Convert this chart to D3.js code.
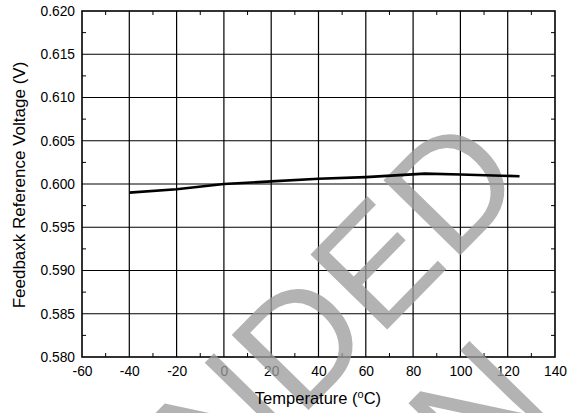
<!DOCTYPE html>
<html>
<head>
<meta charset="utf-8">
<script src="https://cdn.jsdelivr.net/npm/d3@7"></script>
<style>
  html, body { margin: 0; padding: 0; background: #fff; }
  svg { display: block; font-family: "Liberation Sans", Arial, sans-serif; }
</style>
</head>
<body>
<div id="chart"></div>
<script>
// Data
const temps = [-40, -20, 0, 20, 40, 60, 85, 100, 125];
const vref = [0.5990, 0.5994, 0.6000, 0.6003, 0.6006, 0.6008, 0.6012, 0.6011, 0.6009];
const xTicks = [-60, -40, -20, 0, 20, 40, 60, 80, 100, 120, 140];
const yTicks = [0.580, 0.585, 0.590, 0.595, 0.600, 0.605, 0.610, 0.615, 0.620];

const W = 575, H = 413;
const pLeft = 82, pRight = 555, pTop = 11, pBottom = 357;

const svg = d3.select('#chart').append('svg')
  .attr('width', W)
  .attr('height', H);

const x = d3.scaleLinear().domain([-60, 140]).range([pLeft, pRight]);
const y = d3.scaleLinear().domain([0.580, 0.620]).range([pBottom, pTop]);

// Grid
svg.append('g')
  .selectAll('line')
  .data(xTicks.slice(1, -1))
  .join('line')
  .attr('x1', d => x(d)).attr('x2', d => x(d))
  .attr('y1', pTop).attr('y2', pBottom)
  .attr('stroke', '#000').attr('stroke-width', 1.2);

svg.append('g')
  .selectAll('line')
  .data(yTicks.slice(1, -1))
  .join('line')
  .attr('x1', pLeft).attr('x2', pRight)
  .attr('y1', d => y(d)).attr('y2', d => y(d))
  .attr('stroke', '#000').attr('stroke-width', 1.2);

// Minor ticks (inside the frame)
const xMinor = d3.range(-50, 140, 20);
const yMinor = d3.range(0.5825, 0.62, 0.005);
[pBottom, pTop].forEach(yy => {
  svg.append('g').selectAll('line').data(xMinor).join('line')
    .attr('x1', d => x(d)).attr('x2', d => x(d))
    .attr('y1', yy).attr('y2', yy === pBottom ? yy - 4 : yy + 4)
    .attr('stroke', '#000');
});
[pLeft, pRight].forEach(xx => {
  svg.append('g').selectAll('line').data(yMinor).join('line')
    .attr('x1', xx).attr('x2', xx === pLeft ? xx + 4 : xx - 4)
    .attr('y1', d => y(d)).attr('y2', d => y(d))
    .attr('stroke', '#000');
});

// Frame
svg.append('rect')
  .attr('x', pLeft).attr('y', pTop)
  .attr('width', pRight - pLeft).attr('height', pBottom - pTop)
  .attr('fill', 'none').attr('stroke', '#000').attr('stroke-width', 1.6);

// Tick labels via d3 axes (lines hidden)
const xAxis = svg.append('g')
  .attr('transform', `translate(0,${pBottom})`)
  .call(d3.axisBottom(x).tickValues(xTicks).tickSize(0).tickPadding(9).tickFormat(d => String(d)));
const yAxis = svg.append('g')
  .attr('transform', `translate(${pLeft},0)`)
  .call(d3.axisLeft(y).tickValues(yTicks).tickSize(0).tickPadding(7).tickFormat(d3.format('.3f')));
[xAxis, yAxis].forEach(a => {
  a.select('.domain').remove();
  a.selectAll('text').attr('font-size', 13.8).attr('fill', '#000')
    .attr('font-family', '"Liberation Sans", Arial, sans-serif');
});

svg.append('text')
  .attr('transform', `translate(25,${(pTop + pBottom) / 2 + 1}) rotate(-90)`)
  .attr('text-anchor', 'middle')
  .attr('font-size', 17).attr('fill', '#000')
  .text('Feedbaxk Reference Voltage (V)');

// Watermark (semi-transparent, grid shows through darker)
const wm = svg.append('g')
  .attr('fill', '#9c9c9c')
  .attr('fill-opacity', 0.77)
  .attr('font-family', '"Liberation Sans", Arial, sans-serif')
  .attr('font-size', 156);
wm.append('text')
  .attr('transform', 'translate(530,184) rotate(-45.6)')
  .attr('text-anchor', 'end')
  .text('RECOMMENDED');
wm.append('text')
  .attr('transform', 'translate(555,407) rotate(-45.6)')
  .attr('text-anchor', 'end')
  .text('FOR NEW DESIGN');

// X axis title (sits above the watermark)
const xt = svg.append('text')
  .attr('x', 318).attr('y', 404)
  .attr('text-anchor', 'middle')
  .attr('font-size', 16.5).attr('fill', '#000');
xt.append('tspan').text('Temperature (');
xt.append('tspan').attr('dy', -6).attr('font-size', 11).text('o');
xt.append('tspan').attr('dy', 6).text('C)');

// Data line
const line = d3.line()
  .x((d, i) => x(temps[i]))
  .y(d => y(d));
svg.append('path')
  .datum(vref)
  .attr('d', line)
  .attr('fill', 'none')
  .attr('stroke', '#000')
  .attr('stroke-width', 2.6);
</script>
</body>
</html>
